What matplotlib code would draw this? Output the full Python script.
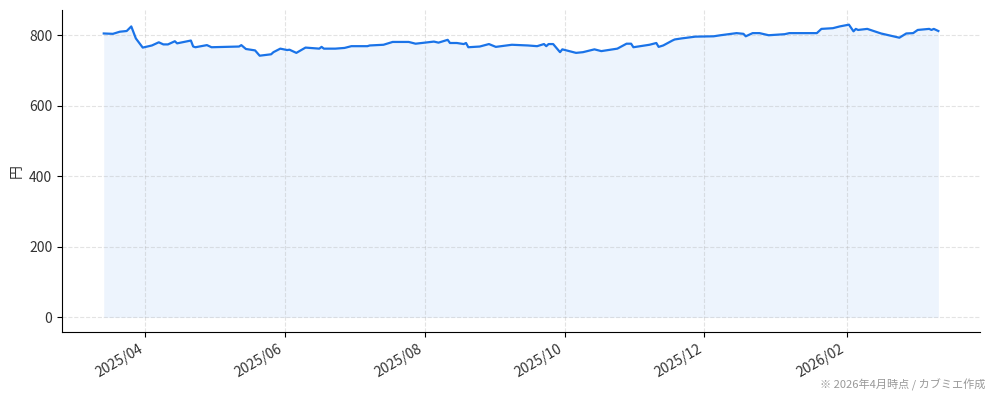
import matplotlib
matplotlib.use("Agg")
import matplotlib.pyplot as plt
import matplotlib.dates as mdates
import pandas as pd

plt.rcParams["font.family"] = ["Noto Sans CJK JP", "DejaVu Sans"]

# 株価（終値の主な転換点）
dates = [
    "2025-03-14", "2025-03-18", "2025-03-21", "2025-03-24", "2025-03-26",
    "2025-03-28", "2025-03-31", "2025-04-04", "2025-04-07", "2025-04-09",
    "2025-04-11", "2025-04-14", "2025-04-15", "2025-04-21", "2025-04-22",
    "2025-04-23", "2025-04-28", "2025-04-30", "2025-05-12", "2025-05-13",
    "2025-05-15", "2025-05-19", "2025-05-21", "2025-05-26", "2025-05-27",
    "2025-05-30", "2025-06-02", "2025-06-03", "2025-06-06", "2025-06-10",
    "2025-06-16", "2025-06-17", "2025-06-18", "2025-06-23", "2025-06-27",
    "2025-06-30", "2025-07-07", "2025-07-08", "2025-07-14", "2025-07-18",
    "2025-07-25", "2025-07-28", "2025-08-01", "2025-08-05", "2025-08-07",
    "2025-08-11", "2025-08-12", "2025-08-15", "2025-08-18", "2025-08-19",
    "2025-08-20", "2025-08-25", "2025-08-29", "2025-09-01", "2025-09-08",
    "2025-09-15", "2025-09-19", "2025-09-22", "2025-09-23", "2025-09-24",
    "2025-09-26", "2025-09-29", "2025-09-30", "2025-10-06", "2025-10-09",
    "2025-10-14", "2025-10-17", "2025-10-21", "2025-10-24", "2025-10-28",
    "2025-10-30", "2025-10-31", "2025-11-05", "2025-11-07", "2025-11-10",
    "2025-11-11", "2025-11-13", "2025-11-17", "2025-11-18", "2025-11-21",
    "2025-11-27", "2025-12-05", "2025-12-08", "2025-12-15", "2025-12-18",
    "2025-12-19", "2025-12-22", "2025-12-25", "2025-12-29", "2026-01-05",
    "2026-01-07", "2026-01-09", "2026-01-19", "2026-01-21", "2026-01-26",
    "2026-01-29", "2026-02-02", "2026-02-04", "2026-02-05", "2026-02-06",
    "2026-02-10", "2026-02-16", "2026-02-18", "2026-02-24", "2026-02-25",
    "2026-02-27", "2026-03-02", "2026-03-04", "2026-03-09", "2026-03-10",
    "2026-03-11", "2026-03-13",
]
prices = [
    805, 804, 810, 812, 825,
    791, 765, 771, 780, 774,
    774, 783, 777, 785, 768,
    766, 772, 766, 768, 772,
    761, 757, 742, 746, 752,
    762, 758, 759, 750, 765,
    762, 767, 762, 762, 764,
    769, 769, 771, 773, 781,
    781, 776, 779, 782, 779,
    787, 778, 778, 775, 778,
    766, 768, 775, 767, 773,
    771, 769, 775, 769, 775,
    775, 752, 760, 750, 752,
    760, 755, 759, 762, 776,
    776, 766, 771, 773, 778,
    767, 771, 785, 788, 791,
    796, 797, 800, 806, 804,
    797, 806, 806, 800, 803,
    806, 806, 806, 818, 820,
    825, 830, 811, 818, 815,
    818, 805, 802, 793, 797,
    805, 806, 815, 818, 815,
    818, 812,
]

x = pd.to_datetime(dates)
line_color = "#1a73e8"

fig, ax = plt.subplots(figsize=(9.94, 4.01), dpi=100)
fig.subplots_adjust(left=0.0624, right=0.986, top=0.975, bottom=0.172)

ax.plot(x, prices, color=line_color, linewidth=1.6)
ax.fill_between(x, prices, 0, color=line_color, alpha=0.08, linewidth=0)

ax.set_ylabel("円", fontsize=10, color="#333333")
ax.xaxis.set_major_locator(mdates.MonthLocator(bymonth=[2, 4, 6, 8, 10, 12]))
ax.xaxis.set_major_formatter(mdates.DateFormatter("%Y/%m"))
ax.tick_params(labelsize=10, labelcolor="#333333")
ax.grid(True, linestyle="--", alpha=0.35)
ax.spines["top"].set_visible(False)
ax.spines["right"].set_visible(False)
fig.autofmt_xdate(rotation=30, ha="right", bottom=0.172)

fig.text(0.991, 0.04, "※ 2026年4月時点 / カブミエ作成", fontsize=8,
         color="#999999", ha="right", va="center")

plt.savefig("out.png", dpi=100)
plt.close()
